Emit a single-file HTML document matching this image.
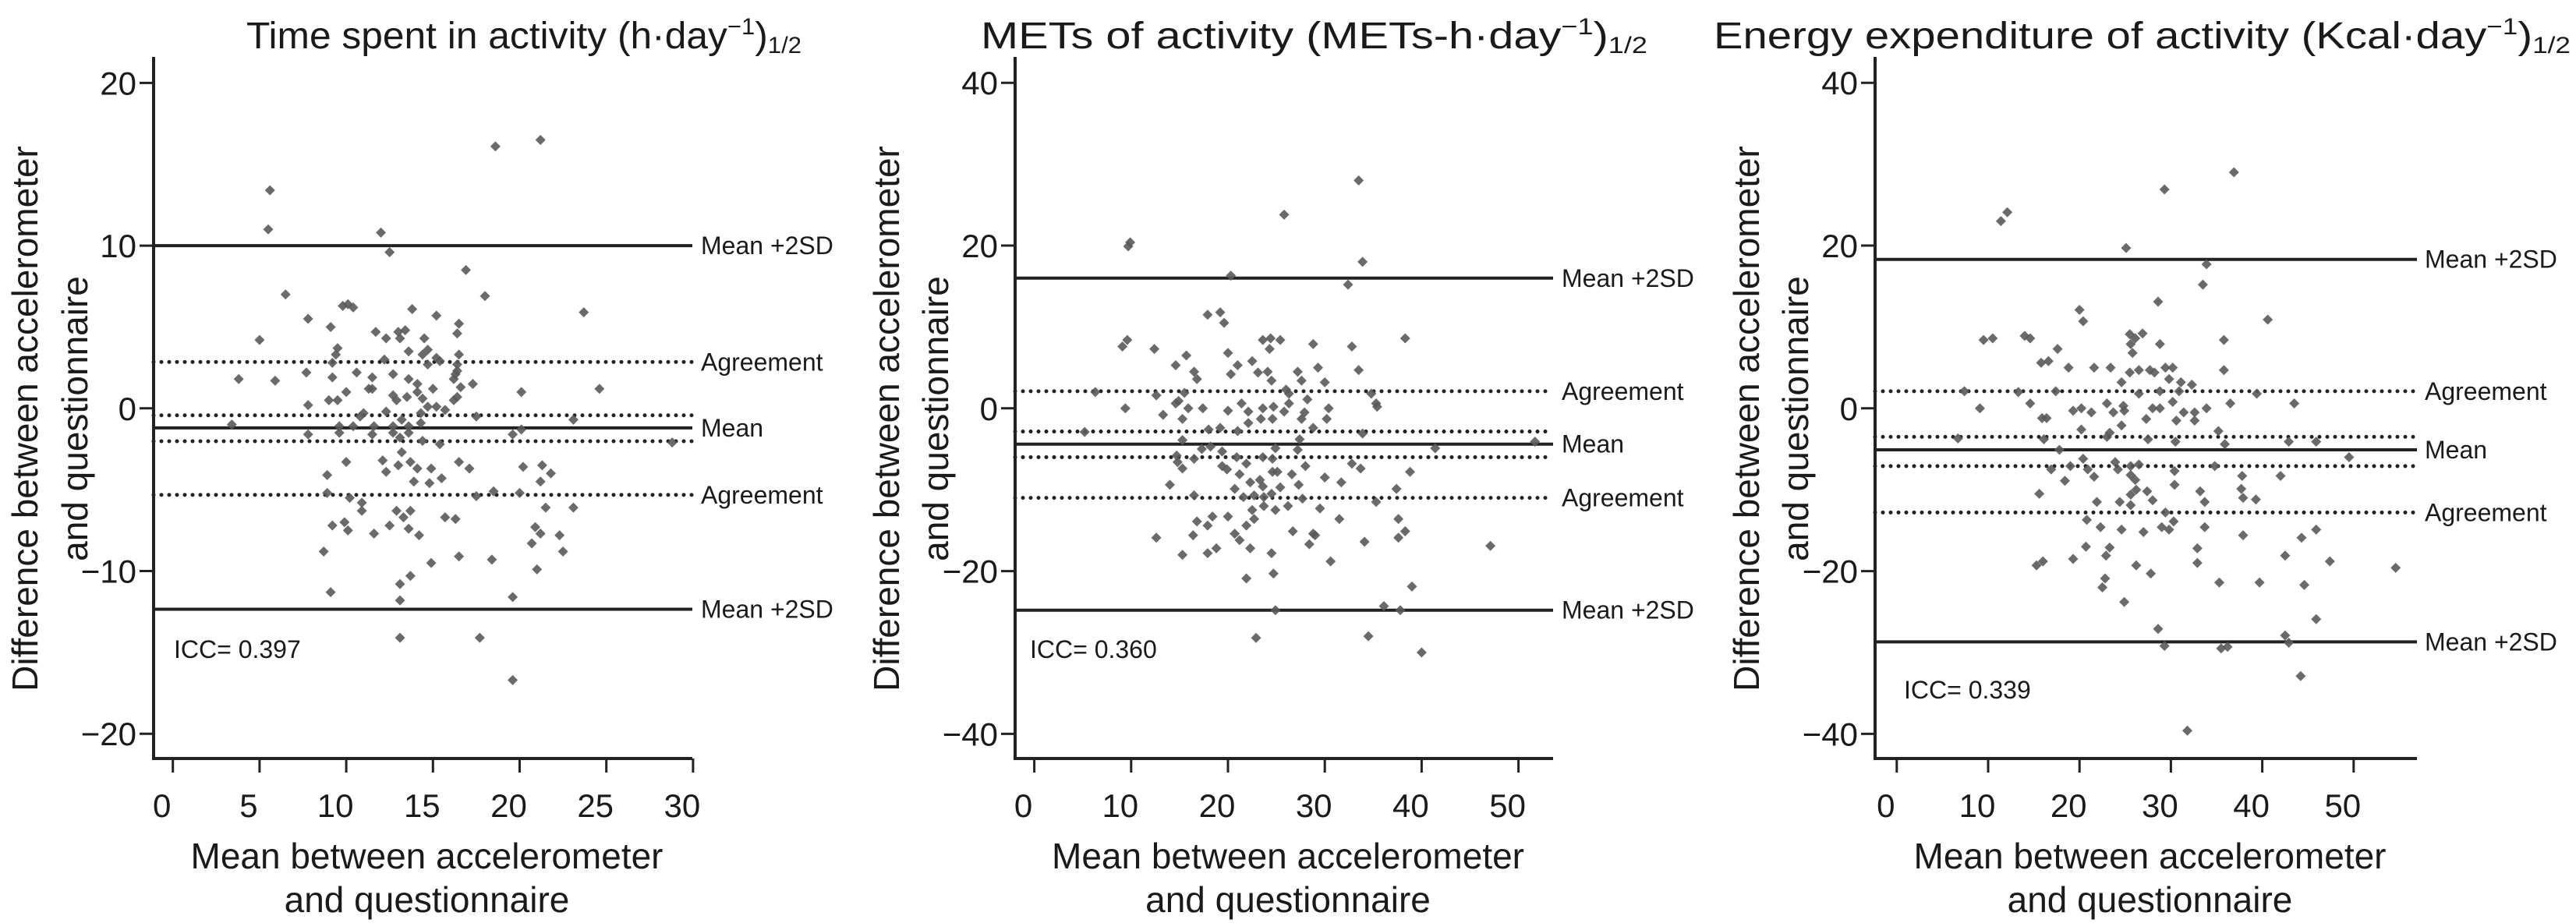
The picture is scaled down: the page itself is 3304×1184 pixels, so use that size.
<!DOCTYPE html>
<html><head><meta charset="utf-8"><title>Bland-Altman plots</title>
<style>
html,body{margin:0;padding:0;background:#fff;}
svg{display:block;font-family:"Liberation Sans",Arial,sans-serif;}
</style></head>
<body>
<svg id="chart" width="3304" height="1184" viewBox="0 0 3304 1184" xmlns="http://www.w3.org/2000/svg"></svg>
<script>
// ---------- Panel 1 data: Time spent in activity ----------
const p1X = [5.5,12.0,12.5,16.9,6.5,18.0,23.7,9.8,10.1,10.4,13.8,15.2,7.8,9.1,16.5,16.4,11.7,12.3,13.0,13.1,13.4,5.0,14.5,13.6,9.5,9.4,14.7,14.4,15.2,15.4,14.7,16.5,16.4,16.4,12.2,9.2,7.7,9.2,10.6,11.5,12.7,13.6,14.1,16.2,16.3,3.8,5.9,17.3,10.0,11.3,11.5,12.7,13.5,14.4,14.1,15.0,16.6,20.1,24.6,7.8,9.0,9.5,12.9,14.7,15.2,15.7,16.2,16.4,11.0,12.3,13.2,14.3,10.8,17.5,23.1,3.4,9.6,10.4,11.6,12.7,13.6,14.3,7.8,9.6,11.5,12.7,13.6,13.1,14.4,15.4,19.6,20.1,28.8,13.2,10.0,12.1,13.0,12.3,13.7,14.1,14.9,16.5,17.1,15.5,13.9,14.8,8.9,20.2,21.3,21.8,21.2,8.9,10.2,10.9,17.5,18.5,20.0,10.9,12.9,13.7,13.3,15.7,16.3,21.5,23.1,9.9,9.2,10.1,12.5,11.6,13.6,14.2,20.9,21.2,22.3,20.7,22.5,8.7,16.5,14.9,18.4,21.0,13.7,13.1,9.1,13.1,19.6,13.1,17.7,5.6,18.6,21.2,19.6];
const p1Y = [11.0,10.8,9.6,8.5,7.0,6.9,5.9,6.3,6.4,6.2,6.1,5.7,5.5,5.0,5.2,4.6,4.7,4.3,4.7,4.3,4.8,4.2,4.3,3.5,3.7,3.3,3.6,3.3,3.1,2.9,2.7,3.3,2.7,2.3,3.0,2.8,2.2,1.9,2.2,1.9,2.1,1.8,1.5,1.8,2.1,1.8,1.7,1.5,1.0,1.2,1.2,0.8,0.7,0.6,1.0,1.2,1.3,1.0,1.2,0.2,0.5,0.5,0.5,0.1,0.1,-0.1,0.5,0.7,-0.3,-0.2,-0.7,-0.3,-0.5,-0.5,-0.7,-1.0,-1.1,-1.1,-1.1,-1.1,-1.1,-0.9,-1.6,-1.5,-1.6,-1.5,-1.5,-1.8,-2.0,-2.2,-1.6,-1.3,-2.1,-2.7,-3.3,-3.2,-3.5,-3.9,-3.3,-3.7,-3.7,-3.3,-3.7,-4.3,-4.5,-4.6,-4.1,-3.6,-3.5,-4.0,-4.5,-5.2,-5.5,-5.8,-5.4,-5.1,-5.2,-6.3,-6.3,-6.3,-6.7,-6.7,-6.8,-6.1,-6.1,-7.0,-7.2,-7.5,-7.2,-7.7,-7.4,-7.8,-7.3,-7.7,-7.8,-8.3,-8.8,-8.8,-9.1,-9.5,-9.3,-9.9,-10.3,-10.8,-11.3,-11.8,-11.6,-14.1,-14.1,13.4,16.1,16.5,-16.7];
const p1Lines = [10.0, 2.85, -0.43, -1.2, -2.02, -5.32, -12.35];
const p1XTicks = [0,5,10,15,20,25,30];
const p1YTicks = [20,10,0,-10,-20];

// ---------- Panel 2 data: METs of activity ----------
const p2X = [33.5,25.8,9.9,9.7,33.9,20.3,32.4,17.9,19.2,19.6,38.3,9.6,9.1,12.4,23.6,24.4,25.4,24.3,28.8,32.8,20.0,15.7,14.6,21.0,22.5,16.5,16.8,20.3,23.1,24.1,24.5,27.2,27.6,29.3,33.5,30.0,6.3,12.6,15.5,26.0,26.3,34.8,9.4,13.3,14.6,14.9,15.9,17.4,15.3,20.0,21.4,22.1,23.6,24.7,25.8,26.3,28.2,27.9,30.4,30.2,23.4,24.6,27.6,35.4,35.3,28.8,22.1,19.2,18.0,21.0,5.2,33.9,15.3,17.3,18.2,27.4,27.2,41.4,51.7,24.9,19.4,14.7,14.8,15.3,16.5,20.9,23.6,24.6,19.4,19.9,21.9,28.0,32.8,33.7,38.8,24.6,25.1,21.2,26.6,30.0,23.3,22.3,23.6,25.4,27.3,31.7,14.0,20.7,37.4,16.5,21.6,22.7,23.7,24.5,27.7,35.3,23.7,24.9,26.2,29.5,22.5,16.8,18.4,20.0,22.7,31.5,37.6,17.9,21.9,12.6,16.4,20.7,21.2,26.7,28.8,29.0,38.3,37.6,34.1,47.1,28.4,15.3,17.9,18.8,22.3,24.5,30.6,21.9,24.7,39.0,36.1,37.8,24.9,22.9,34.5,40.0];
const p2Y = [28.0,23.8,20.4,19.9,18.0,16.3,15.2,11.5,11.8,10.5,8.6,8.4,7.6,7.3,8.4,8.6,8.4,7.3,7.9,7.6,6.8,6.5,5.3,5.3,5.8,4.5,3.6,4.2,4.4,4.5,3.4,4.5,3.4,5.0,4.7,3.2,2.0,1.6,1.9,2.3,1.8,1.8,0.0,-0.8,0.6,0.9,0.0,0.0,-1.3,-0.3,0.6,-0.4,0.0,0.2,-0.4,0.6,1.1,-0.5,0.0,-1.3,-1.3,-1.3,-1.3,0.2,0.6,-2.4,-1.8,-2.4,-2.6,-2.8,-2.9,-3.1,-3.9,-5.0,-4.7,-3.8,-5.1,-4.9,-4.1,-4.9,-5.3,-5.8,-6.6,-7.4,-6.2,-6.0,-6.0,-6.2,-7.1,-7.5,-6.8,-7.1,-6.8,-7.4,-7.8,-7.8,-7.8,-8.1,-8.1,-8.5,-8.8,-9.1,-9.6,-9.7,-9.4,-9.1,-9.4,-9.9,-9.9,-10.7,-10.9,-10.7,-10.9,-10.5,-11.1,-11.5,-12.0,-12.5,-12.0,-12.3,-12.5,-13.9,-13.3,-13.3,-13.6,-13.6,-13.6,-14.4,-14.4,-15.9,-15.6,-15.4,-16.2,-15.1,-15.4,-15.6,-15.1,-15.9,-16.4,-16.9,-16.7,-18.0,-17.8,-17.2,-17.2,-17.8,-18.8,-20.9,-20.3,-21.9,-24.3,-24.8,-24.8,-28.2,-28.0,-30.0];
const p2Lines = [16.0, 2.1, -2.85, -4.4, -6.0, -11.0, -24.8];
const p2XTicks = [0,10,20,30,40,50];
const p2YTicks = [40,20,0,-20,-40];

// ---------- Panel 3 data: Energy expenditure of activity ----------
const p3X = [36.9,29.3,12.1,11.4,25.1,33.9,33.5,28.6,20.0,20.4,40.6,9.5,10.5,14.0,14.6,25.5,26.1,26.9,25.6,28.8,35.8,25.8,17.6,15.8,16.6,18.8,21.6,23.4,25.5,26.5,27.7,28.2,29.4,30.2,35.8,24.6,29.8,31.1,32.3,7.4,13.3,17.4,26.5,28.8,30.9,39.4,9.1,14.6,15.9,16.4,19.3,20.2,21.3,23.0,23.7,24.8,24.9,27.3,28.0,28.8,30.2,30.6,31.4,32.6,32.6,33.9,36.5,43.5,20.2,23.3,24.6,23.0,27.5,30.5,35.2,35.9,42.9,45.9,16.1,6.7,17.8,49.5,20.4,16.9,19.0,20.9,23.9,24.2,25.6,26.5,34.8,30.4,42.0,21.6,25.6,26.1,18.4,37.8,26.2,30.4,33.2,37.7,25.6,27.4,15.6,37.9,39.3,21.9,24.4,28.0,33.7,25.6,29.4,20.8,22.3,24.6,27.0,29.0,29.8,30.3,33.7,37.9,44.3,45.9,20.7,23.3,22.9,32.9,42.5,19.3,15.3,16.0,26.2,32.9,47.4,54.6,27.8,22.8,22.5,35.3,39.7,44.6,24.9,45.9,28.6,42.5,29.3,35.5,36.2,42.9,44.2,31.8];
const p3Y = [29.0,26.9,24.1,23.0,19.7,17.7,15.2,13.1,12.1,10.7,10.9,8.4,8.6,8.9,8.6,9.1,8.6,9.2,7.9,7.9,8.4,6.8,7.3,5.6,5.8,5.0,5.0,5.0,4.4,4.7,4.7,4.4,5.0,5.0,4.7,3.2,3.6,3.2,2.9,2.1,2.0,2.1,1.8,2.1,2.1,1.8,0.0,0.6,-1.2,-1.2,-0.3,0.0,-0.5,0.6,-0.5,0.3,-0.3,-1.3,0.0,0.0,0.8,-1.5,-0.5,-0.5,-1.5,0.0,0.6,0.6,-2.6,-3.0,-2.1,-3.5,-3.8,-4.1,-2.8,-4.4,-4.1,-4.1,-3.8,-3.7,-5.1,-6.0,-6.2,-7.5,-7.1,-7.5,-6.6,-7.5,-7.1,-6.9,-7.1,-7.7,-8.3,-8.4,-8.2,-8.8,-8.9,-8.3,-10.0,-9.4,-10.2,-9.9,-10.6,-10.2,-10.5,-11.0,-11.2,-11.5,-11.5,-11.3,-11.5,-11.9,-12.8,-13.7,-14.6,-14.9,-15.2,-14.6,-14.9,-13.9,-14.6,-15.6,-15.9,-14.9,-17.0,-17.1,-18.1,-17.2,-18.1,-18.5,-19.3,-18.8,-19.3,-19.0,-18.8,-19.6,-20.3,-20.9,-22.0,-21.4,-21.4,-21.7,-23.8,-25.9,-27.1,-27.9,-29.2,-29.5,-29.3,-28.8,-32.9,-39.6];
const p3Lines = [18.3, 2.1, -3.5, -5.1, -7.1, -12.8, -28.7];
const p3XTicks = [0,10,20,30,40,50];
const p3YTicks = [40,20,0,-20,-40];

const lineKinds = ['solid','dot','dot','solid','dot','dot','solid'];
const lineLabels = ['Mean +2SD','Agreement','','Mean','','Agreement','Mean +2SD'];
const iccLabels = ['ICC= 0.397','ICC= 0.360','ICC= 0.339'];

const NS = 'http://www.w3.org/2000/svg';
const svg = document.getElementById('chart');
function mk(tag, attrs, parent) {
  const e = document.createElementNS(NS, tag);
  for (const k in attrs) e.setAttribute(k, attrs[k]);
  (parent || svg).appendChild(e);
  return e;
}

const panels = [
  {key:'time', xs:p1X, ys:p1Y, lines:p1Lines, xt:p1XTicks, yt:p1YTicks, axX:197, x0:221.7, xpu:22.24, xEnd:888, ypu:20.87, labelX:899, iccX:223, iccY:844,
   title:['Time spent in activity (h·day','−1',')','1/2'], titleX:316, titleW:712, yTitleX:[32,96]},
  {key:'mets', xs:p2X, ys:p2Y, lines:p2Lines, xt:p2XTicks, yt:p2YTicks, axX:1302, x0:1326.6, xpu:12.42, xEnd:1992, ypu:10.44, labelX:2003, iccX:1321, iccY:844,
   title:['METs of activity (METs-h·day','−1',')','1/2'], titleX:1258, titleW:855, yTitleX:[1137,1200]},
  {key:'energy', xs:p3X, ys:p3Y, lines:p3Lines, xt:p3XTicks, yt:p3YTicks, axX:2405, x0:2432.8, xpu:11.72, xEnd:3100, ypu:10.44, labelX:3110, iccX:2442, iccY:896,
   title:['Energy expenditure of activity (Kcal·day','−1',')','1/2'], titleX:2198, titleW:1099, yTitleX:[2240,2303]}
];
const Y0 = 523.8, AXIS_Y = 973, AXIS_TOP = 73;

panels.forEach((p, pi) => {
  const g = mk('g', {});
  
  
  const xs = v => p.x0 + v * p.xpu;
  const ys = v => Y0 - v * p.ypu;

  // title
  const t = mk('text', {x:p.titleX, y:62, 'font-size':48, fill:'#1a1a1a'}, g);
  
  
  const s1 = mk('tspan', {}, t); s1.textContent = p.title[0];
  const s2 = mk('tspan', {dy:-18, 'font-size':30}, t); s2.textContent = p.title[1];
  const s3 = mk('tspan', {dy:18}, t); s3.textContent = p.title[2];
  const s4 = mk('tspan', {dy:6, 'font-size':30}, t); s4.textContent = p.title[3];
  t.setAttribute('textLength', p.titleW);
  t.setAttribute('lengthAdjust', 'spacingAndGlyphs');

  // reference lines
  p.lines.forEach((v, i) => {
    const y = ys(v);
    const ln = mk('line', {x1:p.axX, x2:p.xEnd, y1:y, y2:y, stroke:'#222',
      'stroke-width': lineKinds[i]==='solid' ? 4 : 5,
      'stroke-dasharray': lineKinds[i]==='solid' ? 'none' : '0 10',
      'stroke-linecap': lineKinds[i]==='solid' ? 'butt' : 'round'}, g);
    
    
    if (lineLabels[i]) {
      const lt = mk('text', {x:p.labelX, y:y + 11, 'font-size':32, fill:'#1a1a1a'}, g);
      
      
      lt.textContent = lineLabels[i];
    }
  });

  // points
  p.xs.forEach((xv, i) => {
    const cx = xs(xv), cy = ys(p.ys[i]);
    const d = mk('path', {d:`M${cx} ${cy-6.5}L${cx+6.5} ${cy}L${cx} ${cy+6.5}L${cx-6.5} ${cy}Z`, fill:'#5a5a5a', 'fill-opacity':0.9}, g);
    
    
  });

  // axes
  const ya = mk('line', {x1:p.axX, x2:p.axX, y1:AXIS_TOP, y2:AXIS_Y, stroke:'#222', 'stroke-width':4}, g);
  
  
  const xa = mk('line', {x1:p.axX - 2, x2:p.xEnd, y1:AXIS_Y, y2:AXIS_Y, stroke:'#222', 'stroke-width':4}, g);
  
  

  p.yt.forEach(v => {
    const y = ys(v);
    const tk = mk('line', {x1:p.axX - 18, x2:p.axX, y1:y, y2:y, stroke:'#222', 'stroke-width':3}, g);
    
    
    const tl = mk('text', {x:p.axX - 22, y:y + 15, 'font-size':42, 'text-anchor':'end', fill:'#1a1a1a'}, g);
    
    
    tl.textContent = v < 0 ? '−' + Math.abs(v) : String(v);
  });
  p.xt.forEach(v => {
    const x = xs(v);
    const tk = mk('line', {x1:x, x2:x, y1:AXIS_Y, y2:AXIS_Y + 18, stroke:'#222', 'stroke-width':3}, g);
    
    
    const tl = mk('text', {x:x - 14, y:1048, 'font-size':42, 'text-anchor':'middle', fill:'#1a1a1a'}, g);
    
    
    tl.textContent = String(v);
  });

  // ICC
  const icc = mk('text', {x:p.iccX, y:p.iccY, 'font-size':32, fill:'#1a1a1a'}, g);
  
  
  icc.textContent = iccLabels[pi];

  // x title
  const cxT = (p.axX + p.xEnd) / 2 + 5;
  const xt1 = mk('text', {x:cxT, y:1114, 'font-size':46, 'text-anchor':'middle', fill:'#1a1a1a'}, g);
  
  
  xt1.textContent = 'Mean between accelerometer';
  const xt2 = mk('text', {x:cxT, y:1170, 'font-size':46, 'text-anchor':'middle', fill:'#1a1a1a'}, g);
  
  
  xt2.textContent = 'and questionnaire';

  // y title
  const yt1 = mk('text', {x:0, y:0, 'font-size':46, 'text-anchor':'middle', fill:'#1a1a1a', transform:`translate(${p.yTitleX[0]+16},537) rotate(-90)`}, g);
  
  
  yt1.textContent = 'Difference between accelerometer';
  const yt2 = mk('text', {x:0, y:0, 'font-size':46, 'text-anchor':'middle', fill:'#1a1a1a', transform:`translate(${p.yTitleX[1]+16},537) rotate(-90)`}, g);
  
  
  yt2.textContent = 'and questionnaire';
});
</script>
</body></html>
